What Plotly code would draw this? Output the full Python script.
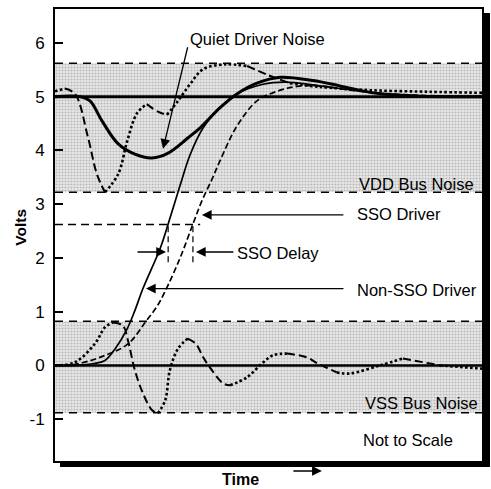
import numpy as np
import plotly.graph_objects as go

# ---------------- data (time in arbitrary units 0..10, volts) ----------------
T_MAX = 10.0
VDD_LEVEL = 5.0
VSS_LEVEL = 0.0
vdd_band = [3.22, 5.62]          # VDD bus noise margin
vss_band = [-0.88, 0.82]         # VSS bus noise margin
delay_level = 2.62               # level where SSO delay is measured
delay_ref_end = 3.4              # extent of the reference dashed line
delay_marks_t = [2.65, 3.23]     # Non-SSO / SSO crossing times
delay_marks_v = [1.92, 2.62]

quiet_t = [0, 0.59, 0.82, 1.10, 1.48, 1.87, 2.27, 2.65, 3.11, 3.40, 3.86, 4.26, 4.73, 5.27, 6.04, 6.67, 7.45, 8.31, 10.0]
quiet_v = [5.0, 5.0, 4.92, 4.55, 4.12, 3.93, 3.86, 3.95, 4.23, 4.42, 4.79, 5.05, 5.25, 5.36, 5.30, 5.20, 5.07, 5.01, 5.0]

nonsso_t = [0, 0.47, 0.94, 1.17, 1.41, 1.69, 1.87, 2.06, 2.46, 2.65, 2.93, 3.16, 3.47, 3.86, 4.26, 4.87, 5.39, 6.21, 7.38, 8.55, 10.0]
nonsso_v = [0, 0.0, 0.04, 0.09, 0.31, 0.68, 1.02, 1.43, 2.17, 2.63, 3.35, 3.91, 4.42, 4.79, 5.05, 5.23, 5.27, 5.20, 5.08, 5.02, 5.0]

sso_t = [0, 0.47, 1.05, 1.71, 2.11, 2.39, 2.58, 2.93, 3.23, 3.44, 3.68, 3.86, 4.26, 4.73, 5.20, 5.67, 6.21, 6.91, 8.08, 10.0]
sso_v = [0, 0.02, 0.15, 0.40, 0.80, 1.10, 1.38, 2.00, 2.63, 3.06, 3.47, 3.80, 4.45, 4.92, 5.10, 5.19, 5.20, 5.12, 5.04, 5.0]

vdd_ring_t = [0, 0.23, 0.47, 0.77, 0.98, 1.17, 1.48, 1.69, 1.92, 2.15, 2.41, 2.62, 2.88, 3.16, 3.47, 3.98, 4.50, 4.99, 5.50, 6.21, 7.38, 8.78, 10.0]
vdd_ring_v = [5.10, 5.15, 5.05, 4.25, 3.56, 3.22, 3.56, 4.17, 4.69, 4.86, 4.72, 4.66, 4.92, 5.23, 5.51, 5.60, 5.57, 5.40, 5.25, 5.18, 5.12, 5.09, 5.07]

vss_ring_t = [0, 0.47, 0.94, 1.17, 1.36, 1.59, 1.71, 1.87, 2.06, 2.27, 2.41, 2.58, 2.69, 2.88, 3.11, 3.30, 3.47, 3.63, 3.93, 4.10, 4.50, 4.85, 5.11, 5.43, 5.90, 6.14, 6.60, 6.91, 7.61, 8.15, 9.02, 10.0]
vss_ring_v = [0.0, 0.06, 0.41, 0.71, 0.80, 0.74, 0.46, -0.09, -0.52, -0.83, -0.89, -0.65, -0.09, 0.31, 0.50, 0.40, 0.15, -0.04, -0.33, -0.37, -0.22, 0.04, 0.19, 0.22, 0.15, 0.04, -0.13, -0.15, 0.0, 0.13, 0.0, -0.06]

y_ticks = [-1, 0, 1, 2, 3, 4, 5, 6]
y_tick_labels = ["-1", "0", "1", "2", "3", "4", "5", "6"]
Y_RANGE = [-1.778, 6.63]

FONT = "Liberation Sans, Arial, Helvetica, sans-serif"

fig = go.Figure()

# ---------------- shaded noise bands ----------------
for lo, hi in (vdd_band, vss_band):
    fig.add_trace(go.Scatter(
        x=[0, T_MAX, T_MAX, 0, 0], y=[lo, lo, hi, hi, lo], mode="lines",
        fill="toself", line=dict(width=0),
        fillcolor="#dcdcdc",
        fillpattern=dict(shape=".", size=3, solidity=0.38, fgcolor="#8a8a8a", bgcolor="#e8e8e8"),
        hoverinfo="skip"))
    for lev in (lo, hi):
        fig.add_trace(go.Scatter(x=[0, T_MAX], y=[lev, lev], mode="lines",
                                 line=dict(color="black", width=1.5, dash="8px,6px"), hoverinfo="skip"))

# reference rails
for lev, w in ((VDD_LEVEL, 3), (VSS_LEVEL, 2.5)):
    fig.add_trace(go.Scatter(x=[0, T_MAX], y=[lev, lev], mode="lines",
                             line=dict(color="black", width=w)))

# delay reference line and markers
fig.add_trace(go.Scatter(x=[0, delay_ref_end], y=[delay_level, delay_level], mode="lines",
                         line=dict(color="black", width=1.5, dash="8px,5px")))
for tm in delay_marks_t:
    fig.add_trace(go.Scatter(x=[tm, tm], y=delay_marks_v, mode="lines",
                             line=dict(color="black", width=1.2, dash="6px,4px")))


def styled_runs(t, v, thr=-0.1):
    t = np.asarray(t, float)
    v = np.asarray(v, float)
    falling = (np.diff(v) / np.diff(t)) < thr
    runs, start = [], 0
    for i in range(1, len(falling)):
        if falling[i] != falling[start]:
            runs.append((start, i, falling[start]))
            start = i
    runs.append((start, len(falling), falling[start]))
    return t, v, runs


# ringing curves: falling parts dashed, rising parts dotted
for rt, rv in ((vdd_ring_t, vdd_ring_v), (vss_ring_t, vss_ring_v)):
    t, v, runs = styled_runs(rt, rv)
    for s, e, fall in runs:
        fig.add_trace(go.Scatter(
            x=t[s:e + 1], y=v[s:e + 1], mode="lines", line_shape="spline",
            line=dict(color="black", width=2.0 if fall else 2.6,
                      dash="8px,4px" if fall else "2.6px,2.4px")))

# drivers
fig.add_trace(go.Scatter(x=sso_t, y=sso_v, mode="lines", line_shape="spline",
                         line=dict(color="black", width=1.7, dash="6px,3px")))
fig.add_trace(go.Scatter(x=nonsso_t, y=nonsso_v, mode="lines", line_shape="spline",
                         line=dict(color="black", width=1.7)))
fig.add_trace(go.Scatter(x=quiet_t, y=quiet_v, mode="lines", line_shape="spline",
                         line=dict(color="black", width=3)))

# ---------------- annotations ----------------
tf = dict(family=FONT, size=16.5, color="black")
texts = [
    ("Quiet Driver Noise", 3.12, 6.07, "left"),
    ("VDD Bus Noise", 9.85, 3.37, "right"),
    ("SSO Driver", 7.03, 2.81, "left"),
    ("SSO Delay", 4.22, 2.09, "left"),
    ("Non-SSO Driver", 7.03, 1.41, "left"),
    ("VSS Bus Noise", 9.95, -0.70, "right"),
    ("Not to Scale", 7.17, -1.39, "left"),
]
for txt, x, y, anc in texts:
    fig.add_annotation(x=x, y=y, text=txt, showarrow=False, xanchor=anc, yanchor="middle", font=tf)

arrows = [  # tip (t, V), tail offset in px
    (2.53, 4.03, 25, -103),
    (3.44, 2.80, 143, 0),
    (2.60, 2.11, -30, 0),
    (3.30, 2.11, 39, 0),
    (2.13, 1.43, 199, 0),
]
for x, y, ax, ay in arrows:
    fig.add_annotation(x=x, y=y, ax=ax, ay=ay, text="", showarrow=True,
                       arrowhead=2, arrowsize=1.5, arrowwidth=1.3, arrowcolor="black", standoff=0)

fig.add_annotation(xref="paper", yref="paper", x=0.625, y=-0.022, ax=-30, ay=0, text="",
                   showarrow=True, arrowhead=2, arrowsize=1.4, arrowwidth=1.4, arrowcolor="black", standoff=0)
fig.add_annotation(xref="paper", yref="paper", x=0.435, y=-0.040, text="<b>Time</b>", showarrow=False,
                   xanchor="center", yanchor="middle", font=dict(family=FONT, size=16, color="black"))
fig.add_annotation(xref="paper", yref="paper", x=-0.08, y=0.518, text="<b>Volts</b>", showarrow=False,
                   textangle=-90, xanchor="center", yanchor="middle", font=dict(family=FONT, size=15.5, color="black"))

# frame shadow
W, H = 427.0, 454.0
fig.add_shape(type="rect", xref="paper", yref="paper", x0=1 + 2 / W, x1=1 + 8 / W, y0=-6 / H, y1=1 - 4 / H,
              fillcolor="black", line_width=0, layer="below")
fig.add_shape(type="rect", xref="paper", yref="paper", x0=5 / W, x1=1 + 8 / W, y0=-6 / H, y1=-1 / H,
              fillcolor="black", line_width=0, layer="below")

fig.update_layout(
    width=491, height=489, margin=dict(l=55, r=9, t=7, b=28),
    paper_bgcolor="white", plot_bgcolor="white", showlegend=False,
    xaxis=dict(range=[0, T_MAX], showticklabels=False, ticks="", showgrid=False, zeroline=False,
               showline=True, linecolor="black", linewidth=2, mirror=True),
    yaxis=dict(range=Y_RANGE, tickvals=y_ticks, ticktext=y_tick_labels, ticks="inside", ticklen=8,
               tickwidth=2, tickcolor="black",
               showgrid=False, zeroline=False, showline=True, linecolor="black", linewidth=2, mirror=True,
               tickfont=dict(family=FONT, size=17, color="black"), ticklabelstandoff=5),
)

fig.write_html("out.html")
